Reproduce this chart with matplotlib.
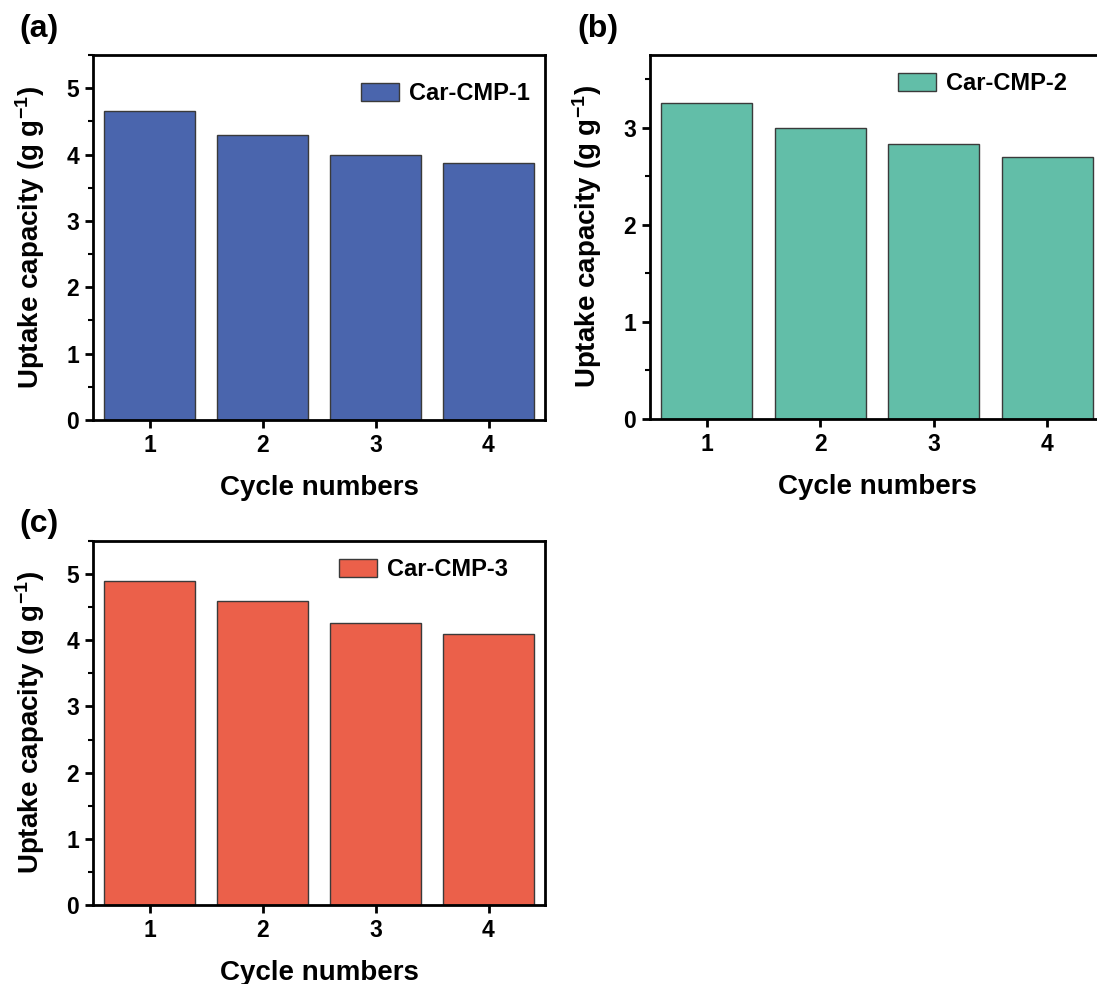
import matplotlib
matplotlib.use("Agg")
import matplotlib.pyplot as plt
from matplotlib.ticker import MultipleLocator

plt.rcParams["font.family"] = ["Liberation Sans", "DejaVu Sans"]
plt.rcParams["font.weight"] = "bold"
plt.rcParams["mathtext.fontset"] = "custom"
plt.rcParams["mathtext.rm"] = "Liberation Sans:bold"
plt.rcParams["mathtext.bf"] = "Liberation Sans:bold"
plt.rcParams["mathtext.default"] = "bf"

cycles = [1, 2, 3, 4]
uptake_cmp1 = [4.65, 4.30, 4.00, 3.88]
uptake_cmp2 = [3.26, 3.00, 2.83, 2.70]
uptake_cmp3 = [4.90, 4.60, 4.26, 4.10]

names = ["Car-CMP-1", "Car-CMP-2", "Car-CMP-3"]
colors = ["#4A65AD", "#62BEA8", "#EB604A"]
ymax = [5.5, 3.75, 5.5]
panel_tags = ["(a)", "(b)", "(c)"]

W, H = 1097, 984
fig = plt.figure(figsize=(W / 100, H / 100), dpi=100)

# axes boxes in pixels: left, top, right, bottom
boxes = [(93, 55, 545, 420), (650, 55, 1104, 419), (93, 541, 545, 905)]
tag_pos = [(19, 29), (577, 29), (19, 524)]
legend_pos = [(361, 94), (898, 84), (339, 570)]


def make_panel(box, vals, name, color, top, leg_xy):
    l, t, r, b = box
    ax = fig.add_axes([l / W, 1 - b / H, (r - l) / W, (b - t) / H])
    ax.bar(cycles, vals, width=0.8, color=color, edgecolor="#3a3a3a",
           linewidth=1.0, label=name)
    ax.set_xlim(0.5, 4.5)
    ax.set_ylim(0, top)
    ax.set_xticks(cycles)
    ax.yaxis.set_major_locator(MultipleLocator(1))
    ax.yaxis.set_minor_locator(MultipleLocator(0.5))
    for s in ax.spines.values():
        s.set_linewidth(2)
    ax.tick_params(axis="both", which="major", direction="out", length=6,
                   width=2, labelsize=16.5, pad=4)
    ax.tick_params(axis="y", which="minor", direction="out", length=3.5,
                   width=1.5)
    ax.set_xlabel("Cycle numbers", fontsize=20, fontweight="bold", labelpad=13)
    ax.set_ylabel("Uptake capacity (g g$^{-1}$)", fontsize=20,
                  fontweight="bold", labelpad=14)
    lx, ly = leg_xy
    ax.legend(loc="center left", bbox_to_anchor=(lx / W, 1 - ly / H),
              bbox_transform=fig.transFigure, frameon=False, fontsize=17,
              handlelength=1.6, handleheight=0.8, handletextpad=0.45,
              borderaxespad=0, borderpad=0)
    return ax


data = [uptake_cmp1, uptake_cmp2, uptake_cmp3]
for i in range(3):
    make_panel(boxes[i], data[i], names[i], colors[i], ymax[i], legend_pos[i])
    x, y = tag_pos[i]
    fig.text(x / W, 1 - y / H, panel_tags[i], fontsize=23, fontweight="bold",
             ha="left", va="center")

fig.savefig("out.png", dpi=100)
